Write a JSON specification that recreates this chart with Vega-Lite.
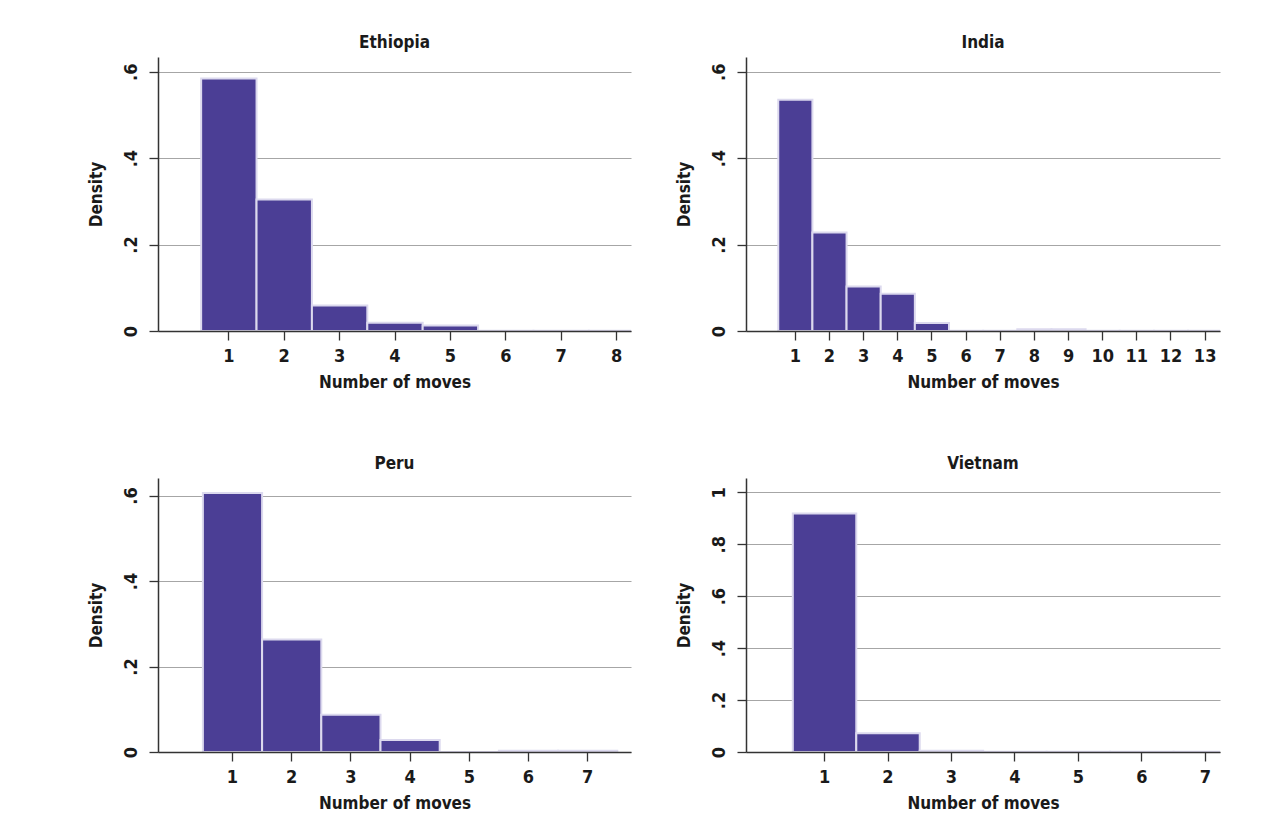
{
  "$schema": "https://vega.github.io/schema/vega-lite/v6.json",
  "background": "white",
  "padding": {"left": 87, "top": 34, "right": 5, "bottom": 5},
  "datasets": {
    "moves": [
      {"country": "Ethiopia", "moves": 1, "density": 0.584},
      {"country": "Ethiopia", "moves": 2, "density": 0.304},
      {"country": "Ethiopia", "moves": 3, "density": 0.059},
      {"country": "Ethiopia", "moves": 4, "density": 0.019},
      {"country": "Ethiopia", "moves": 5, "density": 0.013},
      {"country": "Ethiopia", "moves": 6, "density": 0.0008},
      {"country": "Ethiopia", "moves": 7, "density": 0.0008},
      {"country": "Ethiopia", "moves": 8, "density": 0.0008},
      {"country": "India", "moves": 1, "density": 0.535},
      {"country": "India", "moves": 2, "density": 0.228},
      {"country": "India", "moves": 3, "density": 0.103},
      {"country": "India", "moves": 4, "density": 0.086},
      {"country": "India", "moves": 5, "density": 0.0185},
      {"country": "India", "moves": 6, "density": 0.0008},
      {"country": "India", "moves": 7, "density": 0.0008},
      {"country": "India", "moves": 8, "density": 0.004},
      {"country": "India", "moves": 9, "density": 0.004},
      {"country": "India", "moves": 10, "density": 0.0008},
      {"country": "India", "moves": 11, "density": 0.0008},
      {"country": "India", "moves": 12, "density": 0.0008},
      {"country": "India", "moves": 13, "density": 0.0008},
      {"country": "Peru", "moves": 1, "density": 0.606},
      {"country": "Peru", "moves": 2, "density": 0.263},
      {"country": "Peru", "moves": 3, "density": 0.087},
      {"country": "Peru", "moves": 4, "density": 0.028},
      {"country": "Peru", "moves": 5, "density": 0.0},
      {"country": "Peru", "moves": 6, "density": 0.003},
      {"country": "Peru", "moves": 7, "density": 0.003},
      {"country": "Vietnam", "moves": 1, "density": 0.918},
      {"country": "Vietnam", "moves": 2, "density": 0.072},
      {"country": "Vietnam", "moves": 3, "density": 0.005},
      {"country": "Vietnam", "moves": 4, "density": 0.0008},
      {"country": "Vietnam", "moves": 5, "density": 0.0008},
      {"country": "Vietnam", "moves": 6, "density": 0.0008},
      {"country": "Vietnam", "moves": 7, "density": 0.0008}
    ]
  },
  "data": {"name": "moves"},
  "columns": 2,
  "spacing": {"row": 65, "column": 44},
  "concat": [
    {
      "title": "Ethiopia",
      "width": 473,
      "height": 274,
      "transform": [{"filter": "datum.country === 'Ethiopia'"}],
      "mark": {"type": "bar", "fill": "#4b3e95", "stroke": "#dcd9ee", "strokeWidth": 2, "binSpacing": 0, "clip": true},
      "encoding": {
        "x": {"field": "moves", "type": "quantitative", "bin": {"step": 1, "extent": [0.5, 8.5], "nice": false},
          "scale": {"domain": [-0.27, 8.27], "nice": false, "zero": false},
          "axis": {"values": [1, 2, 3, 4, 5, 6, 7, 8], "title": "Number of moves", "zindex": 1, "grid": false}},
        "y": {"field": "density", "type": "quantitative", "aggregate": "sum",
          "scale": {"domain": [0, 0.634], "nice": false},
          "axis": {"values": [0, 0.2, 0.4, 0.6], "title": "Density"}}
      }
    },
    {
      "title": "India",
      "width": 474,
      "height": 274,
      "transform": [{"filter": "datum.country === 'India'"}],
      "mark": {"type": "bar", "fill": "#4b3e95", "stroke": "#dcd9ee", "strokeWidth": 2, "binSpacing": 0, "clip": true},
      "encoding": {
        "x": {"field": "moves", "type": "quantitative", "bin": {"step": 1, "extent": [0.5, 13.5], "nice": false},
          "scale": {"domain": [-0.43, 13.45], "nice": false, "zero": false},
          "axis": {"values": [1, 2, 3, 4, 5, 6, 7, 8, 9, 10, 11, 12, 13], "title": "Number of moves", "zindex": 1, "grid": false}},
        "y": {"field": "density", "type": "quantitative", "aggregate": "sum",
          "scale": {"domain": [0, 0.634], "nice": false},
          "axis": {"values": [0, 0.2, 0.4, 0.6], "title": "Density"}}
      }
    },
    {
      "title": "Peru",
      "width": 473,
      "height": 274,
      "transform": [{"filter": "datum.country === 'Peru'"}],
      "mark": {"type": "bar", "fill": "#4b3e95", "stroke": "#dcd9ee", "strokeWidth": 2, "binSpacing": 0, "clip": true},
      "encoding": {
        "x": {"field": "moves", "type": "quantitative", "bin": {"step": 1, "extent": [0.5, 7.5], "nice": false},
          "scale": {"domain": [-0.25, 7.74], "nice": false, "zero": false},
          "axis": {"values": [1, 2, 3, 4, 5, 6, 7], "title": "Number of moves", "zindex": 1, "grid": false}},
        "y": {"field": "density", "type": "quantitative", "aggregate": "sum",
          "scale": {"domain": [0, 0.641], "nice": false},
          "axis": {"values": [0, 0.2, 0.4, 0.6], "title": "Density"}}
      }
    },
    {
      "title": "Vietnam",
      "width": 474,
      "height": 274,
      "transform": [{"filter": "datum.country === 'Vietnam'"}],
      "mark": {"type": "bar", "fill": "#4b3e95", "stroke": "#dcd9ee", "strokeWidth": 2, "binSpacing": 0, "clip": true},
      "encoding": {
        "x": {"field": "moves", "type": "quantitative", "bin": {"step": 1, "extent": [0.5, 7.5], "nice": false},
          "scale": {"domain": [-0.23, 7.24], "nice": false, "zero": false},
          "axis": {"values": [1, 2, 3, 4, 5, 6, 7], "title": "Number of moves", "zindex": 1, "grid": false}},
        "y": {"field": "density", "type": "quantitative", "aggregate": "sum",
          "scale": {"domain": [0, 1.055], "nice": false},
          "axis": {"values": [0, 0.2, 0.4, 0.6, 0.8, 1], "title": "Density"}}
      }
    }
  ],
  "config": {
    "font": "DejaVu Sans Condensed, sans-serif",
    "view": {"stroke": null},
    "title": {"fontSize": 17, "fontWeight": "bold", "color": "#1a1a1a", "offset": 5, "anchor": "middle",
      "font": "DejaVu Sans Condensed, sans-serif"},
    "axis": {
      "labelFont": "DejaVu Sans Condensed, sans-serif",
      "titleFont": "DejaVu Sans Condensed, sans-serif",
      "labelFontSize": 18, "labelFontWeight": "bold", "labelColor": "#1a1a1a",
      "titleFontSize": 17, "titleFontWeight": "bold", "titleColor": "#1a1a1a",
      "domainColor": "#333333", "domainWidth": 1.5,
      "tickColor": "#333333", "tickWidth": 1.3, "tickSize": 9,
      "gridColor": "#a6a6a6", "gridWidth": 1.2
    },
    "axisX": {"labelPadding": 7, "titlePadding": 9, "labelFlush": false},
    "axisY": {"grid": true, "labelAngle": -90, "labelAlign": "center", "labelBaseline": "bottom", "labelPadding": 9, "titlePadding": 17,
      "labelExpr": "datum.value == 0 ? '0' : datum.value == 1 ? '1' : replace(format(datum.value, '.1f'), '0.', '.')"}
  }
}
